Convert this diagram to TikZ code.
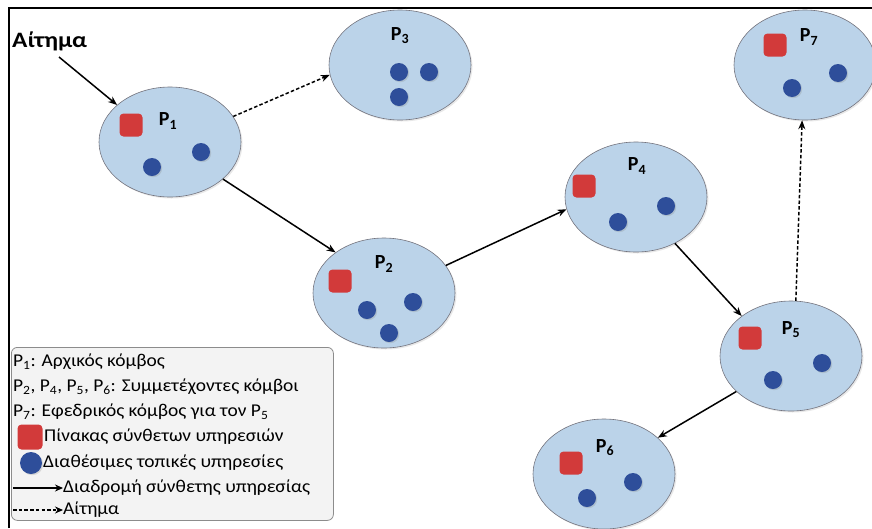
\documentclass[tikz,border=0pt]{standalone}
\usepackage{fontspec}
\setmainfont{Carlito}
\newfontfamily\widegreek[FakeStretch=1.08]{Carlito}
\newfontfamily\widetitle[FakeStretch=1.15]{Carlito}
\usetikzlibrary{shapes.geometric,arrows.meta,shadows}
\definecolor{nodefill}{RGB}{187,211,233}
\definecolor{nodeedge}{RGB}{115,115,125}
\definecolor{tablered}{RGB}{210,58,58}
\definecolor{svcblue}{RGB}{46,78,154}
\definecolor{legfill}{RGB}{243,243,243}
\definecolor{legedge}{RGB}{140,140,140}
\begin{document}
\begin{tikzpicture}[x=1pt,y=-1pt,
  peer/.style={ellipse, draw=nodeedge, fill=nodefill, line width=0.6pt, minimum width=142pt, minimum height=110pt, inner sep=0pt,
    drop shadow={opacity=0.18, shadow xshift=1.5pt, shadow yshift=-1.5pt}},
  tablebox/.style={rectangle, rounded corners=4pt, fill=tablered, minimum size=23pt, inner sep=0pt},
  svc/.style={circle, fill=svcblue, minimum size=18pt, inner sep=0pt,
    drop shadow={opacity=0.25, shadow xshift=1.2pt, shadow yshift=-1.2pt}},
  plabel/.style={font=\fontsize{20}{20}\selectfont\bfseries, inner sep=0pt},
  legtext/.style={font=\widegreek\fontsize{18}{18}\selectfont, inner sep=0pt, anchor=west},
  route/.style={-{Stealth[length=9pt,width=7pt]}, line width=1.5pt},
  req/.style={route, dash pattern=on 3.5pt off 2.2pt}
]
\useasboundingbox (0,0) rectangle (872,528);
\fill[white] (0,0) rectangle (872,528);
\draw[line width=2pt] (9,528) -- (9,8) -- (872,8);

% peers
\node[peer] (p1) at (170,142) {};
\node[peer] (p3) at (400,65) {};
\node[peer] (p7) at (805,65) {};
\node[peer] (p4) at (636,197) {};
\node[peer] (p2) at (384,293) {};
\node[peer] (p5) at (791,356) {};
\node[peer] (p6) at (604,474) {};

% P1
\node[tablebox] (t1) at (131,125) {};
\node[plabel] (l1) at (168,121) {P\textsubscript{1}};
\node[svc] (s11) at (152,167) {};
\node[svc] (s12) at (201,152) {};
% P3
\node[plabel] (l3) at (400,36) {P\textsubscript{3}};
\node[svc] (s31) at (399,72) {};
\node[svc] (s32) at (429,72) {};
\node[svc] (s33) at (399,97) {};
% P7
\node[tablebox] (t7) at (775,45) {};
\node[plabel] (l7) at (809,37) {P\textsubscript{7}};
\node[svc] (s71) at (792,88) {};
\node[svc] (s72) at (838,73) {};
% P4
\node[tablebox] (t4) at (584,186) {};
\node[plabel] (l4) at (637,166) {P\textsubscript{4}};
\node[svc] (s41) at (618,222) {};
\node[svc] (s42) at (666,206) {};
% P2
\node[tablebox] (t2) at (340,281) {};
\node[plabel] (l2) at (384,264) {P\textsubscript{2}};
\node[svc] (s21) at (367,310) {};
\node[svc] (s22) at (413,302) {};
\node[svc] (s23) at (389,333) {};
% P5
\node[tablebox] (t5) at (750,338) {};
\node[plabel] (l5) at (791,330) {P\textsubscript{5}};
\node[svc] (s51) at (773,380) {};
\node[svc] (s52) at (822,363) {};
% P6
\node[tablebox] (t6) at (571,463) {};
\node[plabel] (l6) at (605,448) {P\textsubscript{6}};
\node[svc] (s61) at (587,498) {};
\node[svc] (s62) at (633,482) {};

% request label
\node[font=\widetitle\fontsize{22}{22}\selectfont\bfseries, inner sep=0pt, anchor=west] (reqlabel) at (12,41) {Αίτημα};
\coordinate (reqstart) at (59,57);

% connectors
\draw[route] (reqstart) -- (p1.145);
\draw[req] (p1.22) -- (p3.188);
\draw[route] (p1.-35) -- (p2.140);
\draw[route] (p2.24) -- (p4.190);
\draw[route] (p4.-50) -- (p5.141);
\draw[route] (p5.213) -- (p6.34);
\draw[req] (p5.85) -- (p7.-93);

% legend
\node[draw=legedge, fill=legfill, rounded corners=6pt, line width=0.8pt, minimum width=322pt, minimum height=173pt, anchor=north west, inner sep=0pt] (legend) at (11,347) {};
\node[legtext] (g1) at (13,362) {P\textsubscript{1}: Αρχικός κόμβος};
\node[legtext] (g2) at (13,387) {P\textsubscript{2}, P\textsubscript{4}, P\textsubscript{5}, P\textsubscript{6}: Συμμετέχοντες κόμβοι};
\node[legtext] (g3) at (13,412) {P\textsubscript{7}: Εφεδρικός κόμβος για τον P\textsubscript{5}};
\node[tablebox, minimum size=25pt] (gt) at (30,437) {};
\node[legtext] (g4) at (44,437) {Πίνακας σύνθετων υπηρεσιών};
\node[svc, minimum size=22pt] (gs) at (31,463) {};
\node[legtext] (g5) at (43,463) {Διαθέσιμες τοπικές υπηρεσίες};
\coordinate (ga1) at (13,488);
\node[legtext] (g6) at (63,488) {Διαδρομή σύνθετης υπηρεσίας};
\draw[route, -{Stealth[length=8pt,width=7pt]}, line width=1.5pt] (ga1) -- (g6.west);
\coordinate (ga2) at (13,510);
\node[legtext] (g7) at (63,510) {Αίτημα};
\draw[req, -{Stealth[length=8pt,width=7pt]}, line width=1.5pt] (ga2) -- (g7.west);
\end{tikzpicture}
\end{document}
